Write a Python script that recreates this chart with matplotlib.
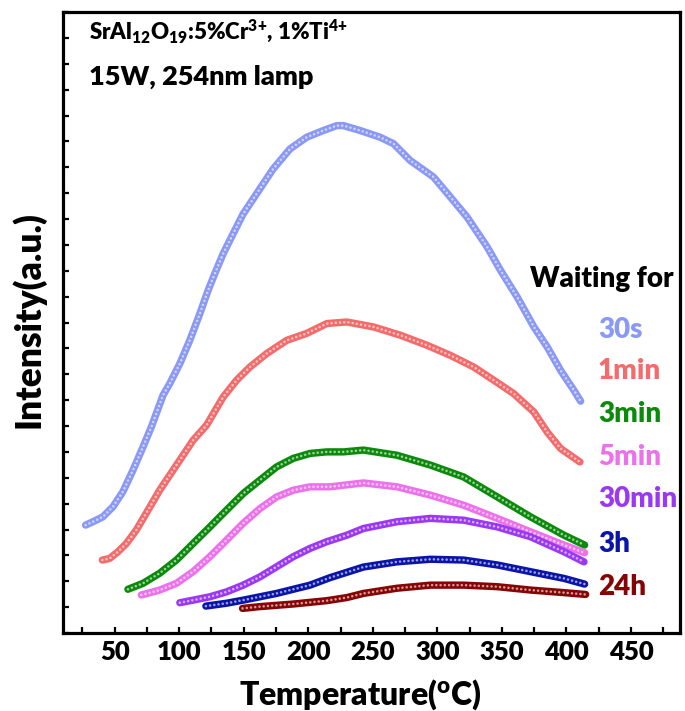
import matplotlib
matplotlib.use("Agg")
import matplotlib.pyplot as plt
from matplotlib.ticker import MultipleLocator, NullFormatter
import matplotlib.colors as mcolors

plt.rcParams['font.family'] = ['Lato', 'DejaVu Sans']
plt.rcParams['mathtext.fontset'] = 'custom'
plt.rcParams['mathtext.rm'] = 'Lato:heavy'
plt.rcParams['mathtext.it'] = 'Lato:heavy'
plt.rcParams['mathtext.bf'] = 'Lato:heavy'
WT = 'heavy'

# ---- data (temperature in degC, intensity in arbitrary units) ----
T_30s = [27.5, 33.2, 40.9, 48.7, 56.4, 64.2, 72.0, 78.5, 87.5, 92.7, 100.5, 108.2, 116.0, 122.4,
         127.6, 134.1, 141.8, 149.6, 157.4, 165.1, 172.9, 185.9, 198.8, 211.7, 222.1, 227.3,
         240.2, 255.7, 266.1, 279.0, 297.1, 310.1, 323.1, 338.6, 348.9, 361.9, 374.8, 385.2,
         395.5, 405.8, 411.0]
I_30s = [4.17, 4.30, 4.49, 4.88, 5.46, 6.29, 7.19, 7.97, 9.19, 9.64, 10.41, 11.31, 12.34, 13.24,
         13.89, 14.66, 15.43, 16.20, 16.78, 17.36, 17.94, 18.71, 19.16, 19.42, 19.61, 19.61,
         19.42, 19.16, 18.91, 18.26, 17.62, 16.85, 16.07, 14.92, 14.02, 12.98, 11.83, 11.05,
         10.15, 9.38, 8.96]

T_1min = [40.5, 46.1, 52.6, 59.1, 66.8, 75.9, 84.9, 92.7, 100.5, 110.8, 121.2, 134.1, 144.5,
          154.8, 167.8, 183.3, 198.8, 214.4, 229.9, 250.5, 271.3, 292.0, 310.1, 328.2, 343.7,
          359.2, 374.8, 385.2, 395.5, 410.5]
I_1min = [2.82, 2.88, 3.14, 3.46, 3.98, 4.75, 5.52, 6.10, 6.68, 7.45, 8.03, 9.12, 9.77,
          10.28, 10.80, 11.31, 11.58, 11.96, 12.02, 11.83, 11.51, 11.12, 10.73, 10.28, 9.77,
          9.25, 8.54, 7.76, 7.13, 6.61]

T_3min = [60.3, 72.0, 84.9, 97.9, 110.8, 123.8, 136.7, 149.6, 162.6, 175.5, 188.4, 201.4,
          214.4, 227.3, 242.8, 268.7, 294.6, 320.4, 346.4, 372.2, 398.1, 414.1]
I_3min = [1.69, 1.92, 2.31, 2.82, 3.46, 4.10, 4.75, 5.39, 5.91, 6.42, 6.75, 6.94,
          7.00, 7.00, 7.07, 6.87, 6.49, 6.03, 5.26, 4.49, 3.78, 3.40]

T_5min = [70.7, 84.9, 97.9, 110.8, 123.8, 136.7, 149.6, 162.6, 175.5, 188.4, 201.4, 216.9,
          242.8, 268.7, 294.6, 320.4, 346.4, 372.2, 398.1, 414.1]
I_5min = [1.47, 1.66, 1.92, 2.37, 2.95, 3.59, 4.24, 4.81, 5.26, 5.52, 5.65, 5.65,
          5.80, 5.65, 5.33, 4.94, 4.43, 3.91, 3.40, 3.10]

T_30min = [100.5, 110.8, 123.8, 136.7, 149.6, 162.6, 175.5, 188.4, 201.4, 214.4, 229.9, 242.8,
           268.7, 294.6, 320.4, 346.4, 372.2, 398.1, 413.6]
I_30min = [1.17, 1.27, 1.40, 1.59, 1.85, 2.17, 2.56, 2.95, 3.27, 3.53, 3.78, 4.04,
           4.30, 4.43, 4.36, 4.10, 3.72, 3.14, 2.75]

T_3h = [120.7, 136.7, 149.6, 162.6, 175.5, 188.4, 201.4, 216.9, 242.8, 268.7, 294.6, 320.4,
        346.4, 372.2, 398.1, 414.1]
I_3h = [1.04, 1.15, 1.27, 1.40, 1.53, 1.69, 1.85, 2.14, 2.55, 2.75, 2.85, 2.82,
        2.63, 2.37, 2.11, 1.89]

T_24h = [149.1, 162.6, 188.4, 214.4, 229.9, 242.8, 268.7, 294.6, 320.4, 346.4, 372.2, 398.1, 414.9]
I_24h = [0.95, 1.02, 1.12, 1.25, 1.37, 1.53, 1.73, 1.85, 1.85, 1.79, 1.66, 1.56, 1.49]

labels = ['30s', '1min', '3min', '5min', '30min', '3h', '24h']
colors = ['#8A98F6', '#F46B6B', '#0B8A0B', '#EC72EC', '#9A38F2', '#0A14A8', '#860404']
series_T = [T_30s, T_1min, T_3min, T_5min, T_30min, T_3h, T_24h]
series_I = [I_30s, I_1min, I_3min, I_5min, I_30min, I_3h, I_24h]

xticks = [50, 100, 150, 200, 250, 300, 350, 400, 450]

W, H = 685, 711
fig = plt.figure(figsize=(W / 100, H / 100), dpi=100)
ax = fig.add_axes([63 / W, 1 - 633 / H, (680 - 63) / W, (633 - 12) / H])

for T, I, c in zip(series_T, series_I, colors):
    light = mcolors.to_rgb(c)
    light = tuple(0.4 * v + 0.6 for v in light)
    ax.plot(T, I, color=c, lw=5.3, solid_capstyle='round', solid_joinstyle='round', zorder=2)
    ax.plot(T, I, color=light, lw=1.9, linestyle=(0, (0.01, 1.6)), dash_capstyle='round',
            zorder=3)

ax.set_xlim(10, 488)
ax.set_ylim(0, 24)
ax.set_xticks(xticks)
ax.set_xticklabels([str(v) for v in xticks])
ax.xaxis.set_minor_locator(MultipleLocator(25))
ax.yaxis.set_major_locator(MultipleLocator(1))
ax.yaxis.set_major_formatter(NullFormatter())
ax.tick_params(axis='both', which='both', direction='in', length=4, width=1.6,
               top=False, right=False)
ax.tick_params(axis='x', labelsize=18.5, pad=5)
for lab in ax.get_xticklabels():
    lab.set_fontweight(WT)
for s in ax.spines.values():
    s.set_linewidth(2.3)

ax.set_xlabel('Temperature($^{\\mathrm{o}}$C)', fontsize=23, fontweight=WT)
ax.xaxis.set_label_coords((360 - 63) / 617, -(705 - 633) / 621, transform=ax.transAxes)
ax.xaxis.label.set_va('baseline')
ax.set_ylabel('Intensity(a.u.)', fontsize=25.5, fontweight=WT)
ax.yaxis.set_label_coords(-(63 - 28) / 617, (633 - 320) / 621, transform=ax.transAxes)
ax.yaxis.label.set_va('center')

fig.text(89 / W, 1 - 39 / H, 'SrAl$_{12}$O$_{19}$:5%Cr$^{3{+}}$, 1%Ti$^{4{+}}$', fontsize=16,
         fontweight=WT, va='baseline', ha='left')
fig.text(89 / W, 1 - 85 / H, '15W, 254nm lamp', fontsize=19.5, fontweight=WT,
         va='baseline', ha='left')

fig.text(530 / W, 1 - 287 / H, 'Waiting for', fontsize=20, fontweight=WT,
         va='baseline', ha='left')
baselines = [338, 379, 422, 465, 507, 552, 595]
for lab, c, b in zip(labels, colors, baselines):
    fig.text(598 / W, 1 - b / H, lab, fontsize=20, fontweight=WT, color=c,
             va='baseline', ha='left')

fig.savefig('out.png', dpi=100)
